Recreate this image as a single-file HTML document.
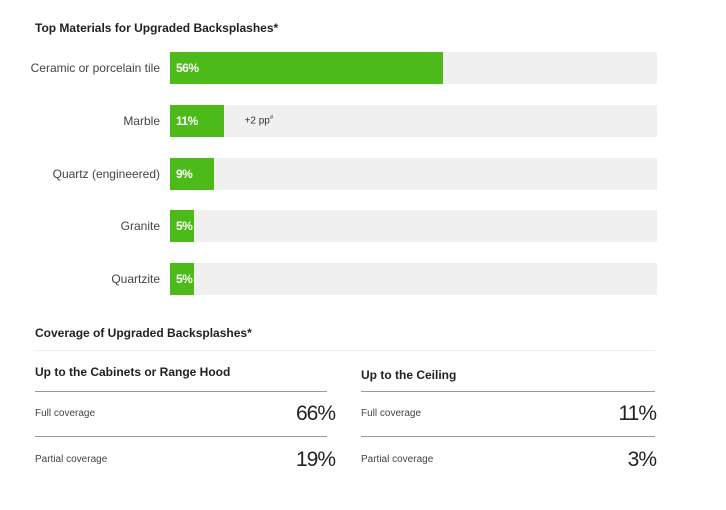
<!DOCTYPE html>
<html><head><meta charset="utf-8"><style>
body{margin:0;width:726px;height:510px;background:#fff;font-family:"Liberation Sans",sans-serif;position:relative;overflow:hidden}
.a{position:absolute}
.t{font-weight:bold;font-size:12px;color:#222}
.lab{font-size:12px;color:#444;text-align:right;width:150px;left:10px}
.h{font-size:12px;color:#222;font-weight:bold}
.l{font-size:10px;color:#444}
.v{font-size:21px;color:#222;text-align:right;width:100px;letter-spacing:-1px}
.ln{height:1px;background:#999}
</style></head><body>
<div class="a t" style="left:35px;top:21px">Top Materials for Upgraded Backsplashes*</div>
<div id="bars"></div>
<div class="a t" style="left:35px;top:326px">Coverage of Upgraded Backsplashes*</div>
<div class="a" style="left:35px;top:350px;width:620px;height:1px;background:#eee"></div>

<div class="a h" style="left:35px;top:365px">Up to the Cabinets or Range Hood</div>
<div class="a ln" style="left:35px;top:391px;width:292px"></div>
<div class="a l" style="left:35px;top:408px">Full coverage</div>
<div class="a v" style="left:235px;top:402px">66%</div>
<div class="a ln" style="left:35px;top:436px;width:292px"></div>
<div class="a l" style="left:35px;top:454px">Partial coverage</div>
<div class="a v" style="left:235px;top:448px">19%</div>

<div class="a h" style="left:361px;top:368px">Up to the Ceiling</div>
<div class="a ln" style="left:361px;top:391px;width:294px"></div>
<div class="a l" style="left:361px;top:408px">Full coverage</div>
<div class="a v" style="left:556px;top:402px">11%</div>
<div class="a ln" style="left:361px;top:436px;width:294px"></div>
<div class="a l" style="left:361px;top:454px">Partial coverage</div>
<div class="a v" style="left:556px;top:448px">3%</div>
<script>
const categories=["Ceramic or porcelain tile","Marble","Quartz (engineered)","Granite","Quartzite"];
const values=[56,11,9,5,5];
const notes=["","+2 pp#","","",""];
const X0=170,W=487,Y0=52,STEP=52.8,BH=32;
const x=v=>v/100*W;
const root=document.getElementById('bars');
categories.forEach((c,i)=>{
 const y=Y0+i*STEP;
 const lab=document.createElement('div');lab.className='a lab';lab.style.top=(y+9)+'px';lab.textContent=c;
 
 
 root.appendChild(lab);
 const tr=document.createElement('div');tr.className='a';tr.style.cssText=`left:${X0}px;top:${y}px;width:${W}px;height:${BH}px;background:#f0f0f0`;
 
 
 root.appendChild(tr);
 const b=document.createElement('div');b.className='a';b.style.cssText=`left:${X0}px;top:${y}px;width:${x(values[i])}px;height:${BH}px;background:#4cba19`;
 
 
 root.appendChild(b);
 const t=document.createElement('div');t.className='a';t.style.cssText=`left:${X0+6}px;top:${y+9}px;color:#fff;font-weight:bold;font-size:12px;letter-spacing:-0.5px`;t.textContent=values[i]+'%';
 
 
 root.appendChild(t);
 if(notes[i]){const n=document.createElement('div');n.className='a';n.style.cssText=`left:${X0+x(values[i])+21}px;top:${y+10}px;font-size:10px;color:#333`;n.innerHTML=notes[i].replace('#','<sup style="font-size:6px">#</sup>');
 
 
 root.appendChild(n);}
});
</script>
</body></html>
